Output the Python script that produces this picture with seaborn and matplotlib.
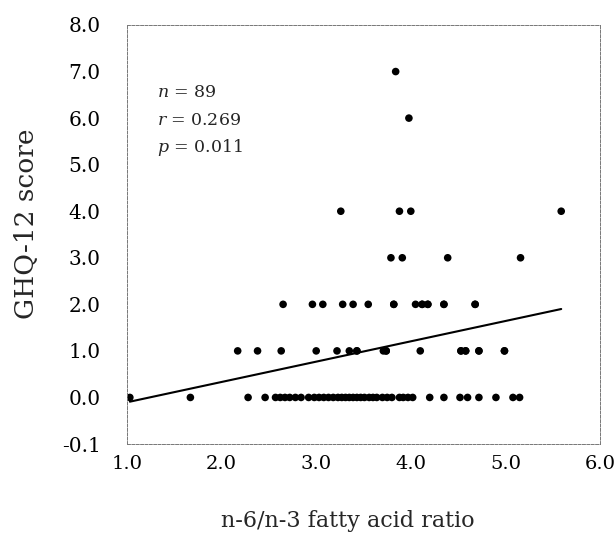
import matplotlib
matplotlib.use("Agg")
import matplotlib.pyplot as plt
import seaborn as sns
import numpy as np
import pandas as pd

# Data (some points overlap exactly)
x_score7 = [3.84]
x_score6 = [3.98]
x_score4 = [3.26, 3.88, 4.00, 5.59]
x_score3 = [3.79, 3.91, 4.39, 5.16]
x_score2 = [2.65, 2.96, 3.07, 3.28, 3.39, 3.55, 3.82, 3.82, 4.05, 4.12, 4.12,
            4.18, 4.18, 4.35, 4.35, 4.68, 4.68]
x_score1 = [2.17, 2.38, 2.63, 3.00, 3.22, 3.35, 3.43, 3.43, 3.71, 3.74, 3.74,
            4.10, 4.53, 4.53, 4.58, 4.58, 4.72, 4.72, 4.99, 4.99]
x_score0 = [1.03, 1.67, 2.28, 2.46,
            2.57, 2.62, 2.67, 2.72, 2.78, 2.84,
            2.92, 2.98, 3.03, 3.08, 3.13, 3.18, 3.23,
            3.27, 3.31, 3.35, 3.39, 3.43, 3.47, 3.51,
            3.56, 3.60, 3.64,
            3.70, 3.75, 3.80, 3.88, 3.92, 3.97, 4.02,
            4.20, 4.35, 4.52, 4.60, 4.72, 4.90, 5.08, 5.15]

x_ticks = [1.0, 2.0, 3.0, 4.0, 5.0, 6.0]
x_tick_labels = ["1.0", "2.0", "3.0", "4.0", "5.0", "6.0"]
y_ticks = [-1, 0, 1, 2, 3, 4, 5, 6, 7, 8]
y_tick_labels = ["-0.1", "0.0", "1.0", "2.0", "3.0", "4.0", "5.0", "6.0", "7.0", "8.0"]
stats_lines = [("n", "89"), ("r", "0.269"), ("p", "0.011")]

groups = [(7, x_score7), (6, x_score6), (4, x_score4), (3, x_score3),
          (2, x_score2), (1, x_score1), (0, x_score0)]
rows = []
for yv, xs in groups:
    for xv in xs:
        rows.append({"ratio": xv, "ghq": yv})
df = pd.DataFrame(rows)

sns.set_style("white")
plt.rcParams["font.family"] = ["DejaVu Serif"]
plt.rcParams["mathtext.fontset"] = "dejavuserif"

fig = plt.figure(figsize=(6.15, 5.42), dpi=100)
ax = fig.add_axes([127 / 615, 1 - 444 / 542, 473 / 615, 419 / 542])

sns.regplot(data=df, x="ratio", y="ghq", ax=ax, ci=None,
            scatter_kws={"s": 30, "color": "black", "edgecolor": "none", "alpha": 1},
            line_kws={"color": "black", "linewidth": 1.5})

ax.set_xlim(1.0, 6.0)
ax.set_ylim(-1.0, 8.0)
ax.set_xticks(x_ticks)
ax.set_xticklabels(x_tick_labels)
ax.set_yticks(y_ticks)
ax.set_yticklabels(y_tick_labels)
ax.tick_params(axis="both", direction="in", length=3, width=0.6, color="#666666",
               labelsize=14, labelcolor="black")
ax.tick_params(axis="x", pad=8)
ax.tick_params(axis="y", pad=19, labelsize=14.5)

for sp in ax.spines.values():
    sp.set_visible(True)
    sp.set_color("#777777")
    sp.set_linewidth(0.7)
    sp.set_linestyle((0, (3, 1.5)))

ax.set_xlabel("n-6/n-3 fatty acid ratio", fontsize=16, va="center")
ax.xaxis.set_label_coords((348 - 127) / 473, (444 - 521) / 419)
ax.set_ylabel("GHQ-12 score", fontsize=19, va="center")
ax.yaxis.set_label_coords((27 - 127) / 473, (444 - 224) / 419)

ys = [6.55, 5.95, 5.37]
for (sym, val), yy in zip(stats_lines, ys):
    ax.text(1.317, yy, f"${sym}$ = {val}", fontsize=12.5, va="center", ha="left")

fig.savefig("out.png", dpi=100)
